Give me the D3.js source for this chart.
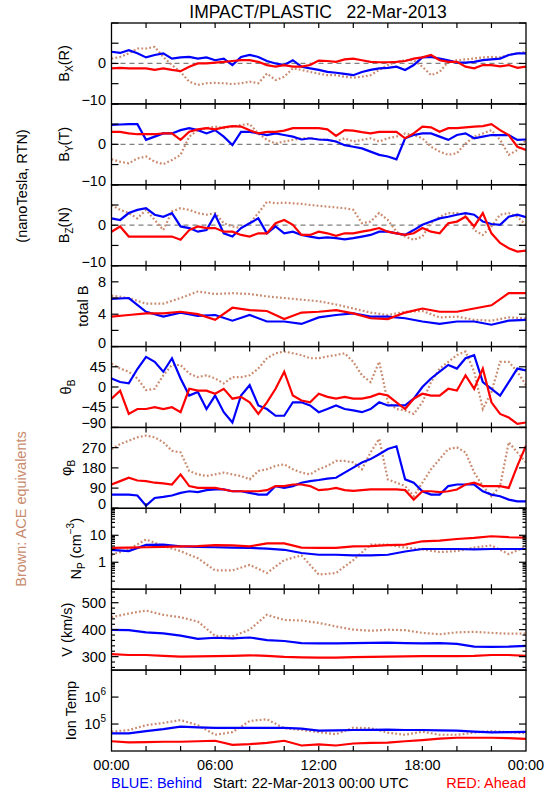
<!DOCTYPE html>
<html><head><meta charset="utf-8">
<script src="https://cdn.jsdelivr.net/npm/d3@7"></script>
<style>
body{margin:0;background:#fff}
svg{display:block}
text{font-family:"Liberation Sans",Arial,sans-serif;fill:#000}
</style>
</head><body>
<svg id="chart" width="550" height="800"></svg>
<script>
// ---------------- DATA (22-Mar-2013) ----------------
const hours = [0,1,2,3,4,5,6,7,8,9,10,11,12,13,14,15,16,17,18,19,20,21,22,23,24];
const halfHours = [0,0.5,1,1.5,2,2.5,3,3.5,4,4.5,5,5.5,6,6.5,7,7.5,8,8.5,9,9.5,10,10.5,11,11.5,12,12.5,13,13.5,14,14.5,15,15.5,16,16.5,17,17.5,18,18.5,19,19.5,20,20.5,21,21.5,22,22.5,23,23.5,24];
const timeTickHours = [0,6,12,18,24];
const timeTickLabels = ["00:00","06:00","12:00","18:00","00:00"];

// Bx (R), nT  (half-hourly)
const bxBehind = [2.9,2.6,3.3,2.5,1.5,2.1,2.5,1.2,1.5,1.6,1.2,1.5,0.8,1.2,-0.4,1.6,2.1,1.6,0.6,0,-0.4,0.8,-0.8,-1.2,-1.6,-2.1,-2.3,-2.6,-2.9,-2.1,-1.6,-1.2,-1.1,-0.8,-1.6,-0.4,1.5,1.6,1.2,0.8,0.2,0.2,0.4,0.8,1.0,1.2,2.1,2.5,2.5];
const bxAhead  = [-1.2,-1.1,-1.2,-1.2,-1.2,-1.6,-1.2,-1.6,-1.9,-0.8,0,0,0.2,0.4,0.6,0.8,0.8,0.4,-0.4,-0.8,-0.4,-0.8,-0.8,-0.4,0.7,0.6,0.4,1.0,1.2,0.8,0.4,0.3,0.3,0.4,0.6,1.2,1.5,2.1,0.8,0.4,0.4,-0.8,-1.2,-0.4,-0.4,-0.7,-0.4,-1.1,-0.8];
const bxACE    = [1.2,1.6,2.5,3.7,3.7,4.1,1.6,-0.4,-2.1,-4.5,-5.3,-4.9,-4.8,-4.9,-5.1,-4.9,-4.5,-4.9,-2.5,-4.1,-3.3,-1.2,-1.6,-2.1,-2.5,-2.9,-2.9,-3.3,-3.5,-3.3,-2.9,-1.6,-0.4,0.4,0.8,0.8,-0.8,-2.9,-2.1,0.4,0.8,1.0,1.2,1.5,1.6,1.5,2.1,2.5,2.9];
// By (T), nT  (half-hourly)
const byBehind = [4.8,4.9,5.0,5.0,1.1,1.9,2.7,2.7,3.5,4.0,3.5,2.7,3.5,1.9,-0.2,3.1,3.1,2.7,2.3,2.7,2.3,1.9,1.2,1.5,1.2,1.1,0.7,-0.2,-0.6,-1.0,-1.8,-2.6,-3.0,-3.7,1.5,2.3,2.7,2.7,1.9,1.1,2.3,2.7,1.5,1.9,2.3,2.3,2.3,1.1,1.2];
const byAhead  = [3.1,3.1,2.7,2.5,2.5,2.5,2.7,2.7,1.1,3.1,3.7,4.0,3.7,4.2,4.5,4.4,3.5,2.7,3.1,3.1,3.4,4.0,4.0,4.0,4.0,3.7,2.1,3.5,3.4,3.0,2.7,3.1,3.1,3.1,1.5,2.7,4.4,4.2,3.1,4.0,4.0,4.2,4.4,4.5,5.0,3.5,2.3,-0.6,-1.4];
const byACE    = [-3.7,-4.3,-4.7,-3.5,-3.0,-4.3,-4.9,-3.9,-2.6,1.9,3.5,4.0,4.4,4.0,4.4,4.8,5.0,2.7,1.1,0.2,0.7,1.1,1.5,1.5,1.2,1.1,0.7,1.5,0.7,1.1,1.5,0.7,1.5,1.9,2.7,2.3,1.5,-0.6,-1.8,-2.6,-2.2,0.2,1.9,2.7,3.5,1.1,-2.6,-1.4,1.1];
// Bz (N), nT  (half-hourly)
const bzBehind = [1.7,1.3,3.0,3.8,4.2,2.6,2.1,3.0,-0.3,-0.7,-1.6,-1.2,2.6,-2.0,-2.8,-0.7,0.5,1.7,-2.0,-0.3,-2.0,-1.6,-2.4,-2.8,-3.2,-3.0,-3.2,-3.5,-3.2,-2.8,-2.4,-1.6,-1.6,-2.0,-2.4,-1.2,0.1,0.9,1.7,2.1,2.6,3.0,2.6,0.9,0.3,0.1,2.1,2.6,2.0];
const bzAhead  = [-1.6,-0.3,-2.8,-2.8,-2.8,-2.8,-2.8,-2.8,-3.6,-1.2,-0.3,-0.7,-0.7,-1.6,-1.6,-2.4,-2.8,-2.0,-2.0,0.5,1.3,0.1,-2.4,-2.4,-1.6,-2.0,-2.6,-2.0,-2.0,-1.6,-1.2,-0.7,-1.6,-2.0,-2.4,-2.0,-0.7,-1.6,-2.0,0.5,0.9,2.1,-0.3,3.0,-2.0,-4.4,-5.7,-6.5,-6.3];
const bzACE    = [5.0,3.8,3.0,1.7,3.8,1.3,-1.2,3.4,4.2,3.8,3.0,2.6,3.0,0.5,-0.3,-0.7,0.5,3.0,5.8,5.4,5.6,5.4,5.3,5.0,4.8,4.6,4.4,4.2,3.8,0.5,0.9,3.0,1.3,-1.6,-2.8,-3.6,-2.8,0.5,2.1,3.0,3.0,2.6,-1.2,-2.4,-0.3,2.6,3.0,2.1,0.1];
// total B, nT  (hourly)
const btBehind = [5.9,6.0,4.3,3.7,4.2,3.8,3.9,3.2,3.9,3.1,3.1,2.8,3.6,3.9,4.1,3.7,3.7,3.5,3.1,2.8,3.1,3.1,2.7,3.2,3.3];
const btAhead  = [3.7,3.9,4.1,4.1,4.3,4.0,3.3,4.8,4.5,4.4,3.4,4.2,4.3,4.5,4.1,3.5,3.4,4.2,4.7,4.3,4.3,4.7,5.1,6.6,6.6];
const btACE    = [6.3,6.0,5.3,5.3,6.0,6.8,6.5,6.6,6.5,6.2,6.0,5.8,5.6,5.2,4.7,4.2,3.9,4.3,4.4,3.6,3.7,3.3,3.2,3.6,3.5];
// theta_B, degrees  (half-hourly)
const thBehind = [19,11,8,40,67,56,34,64,19,-19,-11,-49,-19,-56,-79,-19,4,-41,-49,-64,-64,-34,-34,-41,-56,-49,-41,-49,-52,-56,-49,-34,-41,-41,-41,-26,0,19,34,49,41,64,71,11,-4,-19,11,41,37];
const thAhead  = [-26,-8,-60,-49,-49,-45,-49,-45,-56,-4,-8,-8,-15,-4,-26,-22,-34,-60,-34,-4,34,-19,-30,-34,-15,-22,-26,-22,-26,-26,-22,-15,-19,-34,-49,-26,-15,-19,-19,-4,-8,26,-4,41,-34,-60,-68,-82,-79];
const thACE    = [52,41,34,19,-7,-4,26,49,49,30,22,26,19,8,22,22,26,41,64,75,79,75,71,64,64,68,71,75,56,26,11,56,-34,-49,-52,-60,-34,11,41,56,71,79,34,-49,-11,56,56,34,4];
// phi_B, degrees  (half-hourly)
const phBehind = [61,61,61,57,12,46,51,57,69,76,72,81,84,84,76,76,69,61,61,99,91,99,114,121,126,132,136,159,181,204,219,241,264,276,129,114,76,61,61,99,106,106,106,76,61,54,39,31,31];
const phAhead  = [106,121,136,124,121,114,111,106,151,99,91,91,91,84,76,76,76,76,81,99,99,106,106,99,81,84,91,81,78,81,84,84,84,84,81,39,76,76,72,76,84,106,114,99,99,99,91,189,279];
const phACE    = [264,286,301,316,324,316,294,256,249,166,151,144,151,159,151,144,129,166,174,189,196,174,159,151,174,189,211,211,204,174,249,309,129,114,99,54,114,174,219,264,271,249,159,99,54,99,294,249,204];
// Np, cm^-3  (hourly)
const npBehind = [2.9,2.6,4.4,4.5,3.9,3.7,3.6,3.5,3.4,3.2,2.9,2.2,1.9,1.9,1.8,1.8,1.9,2.5,3.1,3.1,3.1,3.0,3.1,3.1,3.1];
const npAhead  = [3.4,3.5,3.6,3.7,3.9,4.0,4.3,4.2,3.9,5.0,5.0,3.5,3.4,3.4,3.9,4.0,4.3,4.5,6.0,6.3,7.3,8.0,9.2,8.5,8.2];
const npACE    = [1.9,3.0,7.0,4.0,2.6,1.4,0.5,0.5,0.8,0.4,1.2,1.8,0.35,0.4,1.2,4.5,4.5,3.5,3.0,2.4,2.6,3.5,4.2,2.0,3.8];
// V, km/s  (hourly)
const vBehind  = [399,398,390,386,378,366,370,368,371,361,358,350,349,349,350,351,352,350,349,350,347,337,336,337,340];
const vAhead   = [309,306,306,303,300,301,302,303,305,303,299,297,296,296,298,299,300,301,302,302,302,303,306,306,303];
const vACE     = [446,460,471,455,446,430,377,375,400,455,436,434,425,412,400,396,400,398,388,383,390,392,388,385,385];
// Ion temperature, K  (hourly)
const tBehind  = [45000,45000,55000,65000,80000,75000,72000,72000,72000,72000,72000,68000,57000,58000,60000,61000,62000,60000,60000,58000,57000,52000,49000,50000,51000];
const tAhead   = [23000,21000,21500,22000,22000,23000,24000,17000,18000,20000,24000,16000,17500,16000,19000,20000,20500,23000,25500,29000,31000,31000,31000,30000,28000];
const tACE     = [52000,60000,90000,110000,140000,90000,40000,50000,130000,150000,70000,60000,50000,42000,73000,70000,48000,40000,52000,40000,40000,48000,55000,50000,45000];

// ---------------- LAYOUT ----------------
const svg = d3.select("#chart");
const L = 111.5, R = 526, TOP = 23, BOT = 751;
const nP = 9, pH = (BOT - TOP) / nP;
const BLUE = "#0000ff", RED = "#ff0000", BROWN = "#c98a6d";

const x = d3.scaleLinear().domain([0, 24]).range([L, R]);

const panels = [
  {lab:[["B"],["X","sub"],["(R)"]], lx:64, t:halfHours, dom:[-10,10], ticks:[-10,-5,0,5,10], tl:{"0":"0","-10":"\u221210"}, zero:true, s:[bxBehind,bxAhead,bxACE]},
  {lab:[["B"],["Y","sub"],["(T)"]], lx:64, t:halfHours, dom:[-10,10], ticks:[-10,-5,0,5,10], tl:{"0":"0","-10":"\u221210"}, zero:true, s:[byBehind,byAhead,byACE]},
  {lab:[["B"],["Z","sub"],["(N)"]], lx:64, t:halfHours, dom:[-10,10], ticks:[-10,-5,0,5,10], tl:{"0":"0","-10":"\u221210"}, zero:true, s:[bzBehind,bzAhead,bzACE]},
  {lab:[["total B"]], lx:83, t:hours, dom:[0,10], ticks:[0,2,4,6,8,10], tl:{"0":"0","4":"4","8":"8"}, s:[btBehind,btAhead,btACE]},
  {lab:[["\u03B8"],["B","sub"]], lx:66, t:halfHours, dom:[-90,90], ticks:[-90,-45,0,45,90], tl:{"-90":"\u221290","-45":"\u221245","0":"0","45":"45"}, s:[thBehind,thAhead,thACE]},
  {lab:[["\u03C6"],["B","sub"]], lx:66, t:halfHours, dom:[0,360], ticks:[0,90,180,270,360], tl:{"0":"0","90":"90","180":"180","270":"270"}, s:[phBehind,phAhead,phACE]},
  {lab:[["N"],["P","sub"],[" (cm"],["\u22123","sup"],[")"]], lx:76, t:hours, log:true, dom:[0.1,100], ticks:[0.1,1,10,100], tl:{"1":"1","10":"10"}, minorLog:true, s:[npBehind,npAhead,npACE]},
  {lab:[["V (km/s)"]], lx:67, t:hours, dom:[250,550], ticks:[300,400,500], tl:{"300":"300","400":"400","500":"500"}, minor:[260,280,320,340,360,380,420,440,460,480,520,540], s:[vBehind,vAhead,vACE]},
  {lab:[["Ion Temp"]], lx:71, t:hours, log:true, dom:[1e4,1e7], ticks:[1e5,1e6], tl:{"100000":["10","5"],"1000000":["10","6"]}, s:[tBehind,tAhead,tACE]}
];

svg.append("defs");
panels.forEach((p, i) => {
  const y0 = TOP + i * pH, y1 = y0 + pH;
  const y = (p.log ? d3.scaleLog() : d3.scaleLinear()).domain(p.dom).range([y1, y0]);
  const g = svg.append("g");

  const cid = "clip" + i;
  svg.select("defs").append("clipPath").attr("id", cid)
    .append("rect").attr("x", L).attr("y", y0).attr("width", R - L).attr("height", pH);

  if (p.zero) {
    g.append("line").attr("x1", L).attr("x2", R).attr("y1", y(0)).attr("y2", y(0))
      .attr("stroke", "#808080").attr("stroke-width", 1.2).attr("stroke-dasharray", "5,4");
  }

  const line = d3.line().x((d, k) => x(p.t[k])).y(d => y(d));
  const dg = g.append("g").attr("clip-path", `url(#${cid})`);
  dg.append("path").datum(p.s[2]).attr("d", line).attr("fill", "none")
    .attr("stroke", BROWN).attr("stroke-width", 2.2).attr("stroke-dasharray", "1.8,2.2");
  dg.append("path").datum(p.s[0]).attr("d", line).attr("fill", "none")
    .attr("stroke", BLUE).attr("stroke-width", 2.2);
  dg.append("path").datum(p.s[1]).attr("d", line).attr("fill", "none")
    .attr("stroke", RED).attr("stroke-width", 2.2);

  g.append("rect").attr("x", L).attr("y", y0).attr("width", R - L).attr("height", pH)
    .attr("fill", "none").attr("stroke", "#000").attr("stroke-width", 1.3);

  const tk = (v, len) => {
    g.append("line").attr("x1", L).attr("x2", L + len).attr("y1", y(v)).attr("y2", y(v)).attr("stroke", "#000").attr("stroke-width", 1.2);
    g.append("line").attr("x1", R).attr("x2", R - len).attr("y1", y(v)).attr("y2", y(v)).attr("stroke", "#000").attr("stroke-width", 1.2);
  };
  p.ticks.forEach(v => tk(v, 7));
  if (p.minor) p.minor.forEach(v => tk(v, 3.5));
  if (p.minorLog) {
    [0.1, 1, 10].forEach(dec => { for (let m = 2; m <= 9; m++) tk(dec * m, 3.5); });
  }
  p.ticks.forEach(v => {
    const lab = p.tl[String(v)];
    if (lab === undefined) return;
    let yy = y(v);
    if (Math.abs(yy - y1) < 2) yy -= 4;
    const t = g.append("text").attr("x", 106).attr("y", yy).attr("text-anchor", "end")
      .attr("dominant-baseline", "central").attr("font-size", 14.5);
    if (Array.isArray(lab)) {
      t.append("tspan").text(lab[0]);
      t.append("tspan").attr("font-size", 10).attr("dy", -6).text(lab[1]);
    } else t.text(lab);
  });

  for (let h = 2; h < 24; h += 2) {
    g.append("line").attr("x1", x(h)).attr("x2", x(h)).attr("y1", y0).attr("y2", y0 + 5).attr("stroke", "#000").attr("stroke-width", 1.2);
    g.append("line").attr("x1", x(h)).attr("x2", x(h)).attr("y1", y1).attr("y2", y1 - 5).attr("stroke", "#000").attr("stroke-width", 1.2);
  }

  const yc = (y0 + y1) / 2;
  const at = g.append("text").attr("transform", `translate(${p.lx},${yc}) rotate(-90)`)
    .attr("text-anchor", "middle").attr("dominant-baseline", "central").attr("font-size", 14.5);
  let sh = 0;
  p.lab.forEach(part => {
    const ts = at.append("tspan").text(part[0]);
    if (part[1] === "sub") { ts.attr("font-size", 10).attr("dy", 5); sh = 5; }
    else if (part[1] === "sup") { ts.attr("font-size", 10).attr("dy", -6); sh = -6; }
    else if (sh) { ts.attr("dy", -sh); sh = 0; }
  });
});

timeTickHours.forEach((h, k) => {
  svg.append("text").attr("x", x(h)).attr("y", 770).attr("text-anchor", "middle")
    .attr("font-size", 14.5).text(timeTickLabels[k]);
});

svg.append("text").attr("x", 318).attr("y", 18).attr("text-anchor", "middle")
  .attr("font-size", 17.5).style("white-space", "pre")
  .text("IMPACT/PLASTIC   22-Mar-2013");

svg.append("text").attr("x", 111).attr("y", 788).attr("font-size", 14.5).style("fill", BLUE).text("BLUE: Behind");
svg.append("text").attr("x", 213).attr("y", 788).attr("font-size", 14.5).text("Start: 22-Mar-2013 00:00 UTC");
svg.append("text").attr("x", 526).attr("y", 788).attr("text-anchor", "end").attr("font-size", 14.5).style("fill", RED).text("RED: Ahead");

svg.append("text").attr("transform", "translate(22,186) rotate(-90)").attr("text-anchor", "middle")
  .attr("dominant-baseline", "central").attr("font-size", 14.5).text("(nanoTesla, RTN)");
svg.append("text").attr("transform", "translate(21,509) rotate(-90)").attr("text-anchor", "middle")
  .attr("dominant-baseline", "central").attr("font-size", 14.5).style("fill", BROWN).text("Brown: ACE equivalents");
</script>
</body></html>
